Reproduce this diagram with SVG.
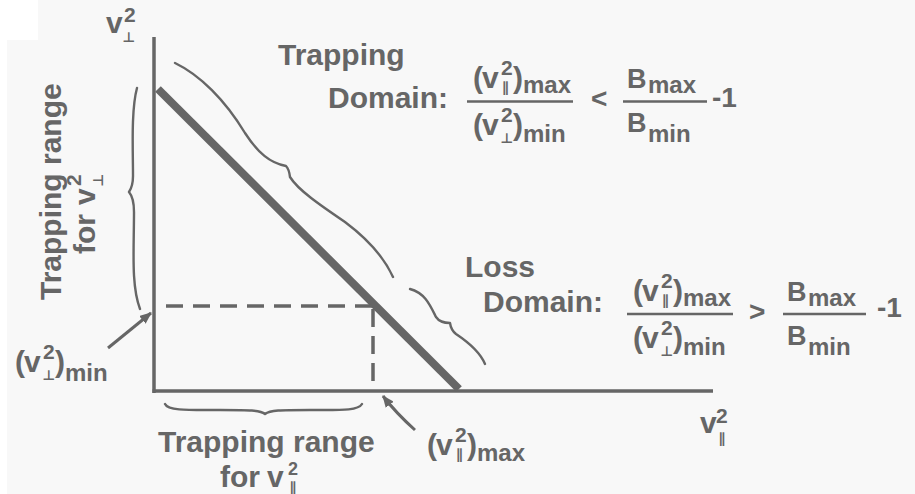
<svg xmlns="http://www.w3.org/2000/svg" width="915" height="494" viewBox="0 0 915 494">
<defs>
<style>
.t{font-family:"Liberation Sans",Arial,sans-serif;font-weight:bold;fill:#666}
.big{font-size:30px}
.sup{font-size:21px}
.sub{font-size:24px}
.sym{font-family:"DejaVu Sans","Liberation Sans",sans-serif;font-weight:bold;font-size:14px;fill:#666;text-anchor:middle}
.ink{stroke:#666;fill:none}
.bar{stroke:#666;stroke-width:2.5}
.brace{stroke:#666;fill:none;stroke-width:2.4;stroke-linecap:round;stroke-linejoin:round}
</style>
<marker id="ah" viewBox="0 0 12 10" refX="11" refY="5" markerWidth="12" markerHeight="10" markerUnits="userSpaceOnUse" orient="auto">
<path d="M0,0 L12,5 L0,10 z" fill="#666"/>
</marker>
</defs>
<rect width="915" height="494" fill="#f8f8f8"/>
<rect x="0" y="0" width="38" height="40" fill="#ffffff"/>
<rect x="0" y="0" width="7" height="494" fill="#ffffff"/>

<g id="connectors">
<line id="v-axis" class="ink" x1="154" y1="37" x2="154" y2="393" stroke-width="3.5"/>
<line id="h-axis" class="ink" x1="152.5" y1="391" x2="713" y2="391" stroke-width="3.5"/>
<line id="boundary" class="ink" x1="158" y1="89" x2="459" y2="389" stroke-width="8"/>
<line id="dash-h" class="ink" x1="166" y1="306" x2="372" y2="306" stroke-width="3.5" stroke-dasharray="17 10"/>
<line id="dash-v" class="ink" x1="373" y1="309" x2="373" y2="390" stroke-width="3.5" stroke-dasharray="18 9"/>
<line id="arrow-min" class="ink" x1="108" y1="348" x2="151" y2="313" stroke-width="3" marker-end="url(#ah)"/>
<path id="arrow-max" class="ink" d="M415,430 Q396,413 383,396" stroke-width="3" marker-end="url(#ah)"/>
</g>

<g id="braces">
<path class="brace" d="M137,88 C131,110 133,150 133,176 Q133,186 129,192 Q134,198 134,212 C134,250 131,285 140,309"/>
<path class="brace" d="M175,63 C200,75 225,100 245,133 C258,153 270,163 286,166 Q289,169 290,177 C298,190 320,205 345,222 C365,237 383,255 393,277"/>
<path class="brace" d="M410,289 C425,293 430,305 436,317 Q440,323 450,323 Q451,330 456,334 C468,342 480,352 485,364"/>
<path class="brace" d="M165,404 C168,411 190,410 220,410 C250,410 260,410 265,414 C270,410 280,410 310,410 C340,410 358,411 362,404"/>
</g>

<g id="axis-label-vperp">
<text class="t big" x="106" y="33">v</text>
<text class="t sup" x="124" y="22">2</text>
<text class="sym" x="129" y="42">⊥</text>
</g>
<g id="axis-label-vpar">
<text class="t big" x="700" y="433">v</text>
<text class="t sup" x="716" y="423">2</text>
<text class="sym" x="722" y="443" font-size="12">∥</text>
</g>

<g id="range-perp" transform="translate(61,300) rotate(-90)">
<text class="t big" x="0" y="0">Trapping range</text>
<g transform="translate(46,34)">
<text class="t big" x="0" y="0">for</text>
<text class="t big" x="49" y="0">v</text>
<text class="t sup" x="68" y="-14">2</text>
<text class="sym" x="74" y="8">⊥</text>
</g>
</g>

<g id="range-par">
<text class="t big" x="158" y="452">Trapping range</text>
<text class="t big" x="220" y="487">for</text>
<text class="t big" x="267" y="487">v</text>
<text class="t" font-size="18" x="288" y="475">2</text>
<text class="sym" x="293" y="492" font-size="9">∥</text>
</g>

<g id="label-vperp-min" transform="translate(15,372)">
<text class="t big" x="0" y="0">(</text>
<text class="t big" x="9" y="0">v</text>
<text class="t sup" x="28" y="-13">2</text>
<text class="sym" x="34" y="8">⊥</text>
<text class="t big" x="40" y="0">)</text>
<text class="t sub" x="50" y="9">min</text>
</g>

<g id="label-vpar-max" transform="translate(427,455)">
<text class="t big" x="0" y="0">(</text>
<text class="t big" x="9" y="0">v</text>
<text class="t sup" x="28" y="-13">2</text>
<text class="sym" x="32.5" y="4" font-size="12">∥</text>
<text class="t big" x="40" y="0">)</text>
<text class="t sub" x="50" y="6">max</text>
</g>

<g id="trapping-domain">
<text class="t big" x="278" y="65">Trapping</text>
<text class="t big" x="328" y="108">Domain:</text>
<g transform="translate(473,88)">
<text class="t big" x="0" y="0">(</text>
<text class="t big" x="9" y="0">v</text>
<text class="t sup" x="28" y="-13">2</text>
<text class="sym" x="32.5" y="4" font-size="12">∥</text>
<text class="t big" x="40" y="0">)</text>
<text class="t sub" x="50" y="5">max</text>
</g>
<line class="bar" x1="467" y1="101.5" x2="573" y2="101.5"/>
<g transform="translate(473,135)">
<text class="t big" x="0" y="0">(</text>
<text class="t big" x="9" y="0">v</text>
<text class="t sup" x="28" y="-13">2</text>
<text class="sym" x="34" y="8">⊥</text>
<text class="t big" x="40" y="0">)</text>
<text class="t sub" x="50" y="7">min</text>
</g>
<text class="t" font-size="28" x="591" y="108">&lt;</text>
<text class="t" font-size="27" x="627" y="88">B</text>
<text class="t sub" x="648" y="93">max</text>
<line class="bar" x1="623" y1="101.5" x2="707" y2="101.5"/>
<text class="t" font-size="27" x="627" y="132">B</text>
<text class="t sub" x="648" y="142">min</text>
<text class="t" font-size="28" x="712" y="107">-1</text>
</g>

<g id="loss-domain">
<text class="t big" x="465" y="277">Loss</text>
<text class="t big" x="483" y="312">Domain:</text>
<g transform="translate(633,300.5)">
<text class="t big" x="0" y="0">(</text>
<text class="t big" x="9" y="0">v</text>
<text class="t sup" x="28" y="-13">2</text>
<text class="sym" x="32.5" y="4" font-size="12">∥</text>
<text class="t big" x="40" y="0">)</text>
<text class="t sub" x="50" y="5">max</text>
</g>
<line class="bar" x1="627" y1="314" x2="733" y2="314"/>
<g transform="translate(633,347.5)">
<text class="t big" x="0" y="0">(</text>
<text class="t big" x="9" y="0">v</text>
<text class="t sup" x="28" y="-13">2</text>
<text class="sym" x="34" y="8">⊥</text>
<text class="t big" x="40" y="0">)</text>
<text class="t sub" x="50" y="7">min</text>
</g>
<text class="t" font-size="28" x="749" y="321">&gt;</text>
<text class="t" font-size="27" x="787" y="300.5">B</text>
<text class="t sub" x="808" y="305.5">max</text>
<line class="bar" x1="783" y1="314" x2="866" y2="314"/>
<text class="t" font-size="27" x="787" y="344.5">B</text>
<text class="t sub" x="808" y="354.5">min</text>
<text class="t" font-size="28" x="877" y="317">-1</text>
</g>
</svg>
